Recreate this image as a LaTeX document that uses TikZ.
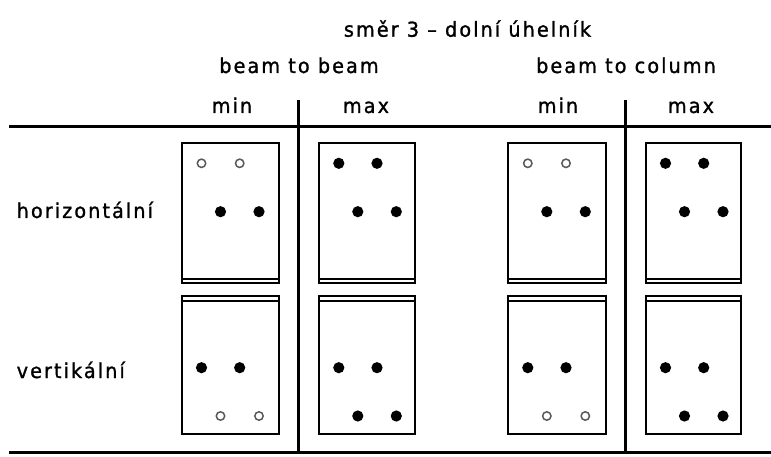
\documentclass[tikz,border=0pt]{standalone}
\usepackage{fontspec}
\setmainfont[LetterSpace=10,FakeStretch=0.94,FakeBold=1.2]{DejaVu Sans}
\begin{document}
\begin{tikzpicture}[x=1pt,y=-1pt,
  rule/.style={line width=2.2pt},
  plate/.style={line width=2.1pt},
  flange/.style={line width=1.6pt},
  bolt/.style={fill=black},
  hole/.style={draw=black!65,line width=1.5pt,fill=white},
  lbl/.style={font=\fontsize{20.5}{24}\selectfont, inner sep=0pt}]
\useasboundingbox (0,0) rectangle (771,457);
% texts
\node[lbl,anchor=base] (title) at (467.5,36.7) {směr 3 – dolní úhelník};
\node[lbl,anchor=base] (bb) at (299,73) {beam to beam};
\node[lbl,anchor=base] (bc) at (626,73) {beam to column};
\node[lbl,anchor=base] (min1) at (232,113) {min};
\node[lbl,anchor=base] (max1) at (366,113) {max};
\node[lbl,anchor=base] (min2) at (558,113) {min};
\node[lbl,anchor=base] (max2) at (691,113) {max};
\node[lbl,anchor=base west] (hor) at (16.5,218) {horizontální};
\node[lbl,anchor=base west] (ver) at (16.5,378) {vertikální};
% rules
\coordinate (tl) at (9,126.5);
\coordinate (tr) at (771,126.5);
\coordinate (bl) at (9,452.5);
\coordinate (br) at (771,452.5);
\coordinate (d1t) at (298.5,100);
\coordinate (d1b) at (298.5,452.5);
\coordinate (d2t) at (625.5,100);
\coordinate (d2b) at (625.5,452.5);
\draw[rule] (tl) -- (tr);
\draw[rule] (bl) -- (br);
\draw[rule] (d1t) -- (d1b);
\draw[rule] (d2t) -- (d2b);
% top row, min
\foreach \xl/\xr in {182/279.3,508.3/606} {
  \draw[plate] (\xl,143.3) rectangle (\xr,283.3);
  \draw[flange] (\xl,278.7) -- (\xr,278.7);
  \draw[hole] (\xl+19.5,163.3) circle (4.2pt);
  \draw[hole] (\xl+57.7,163.3) circle (4.2pt);
  \fill[bolt] (\xl+38.5,211.7) circle (5.6pt);
  \fill[bolt] (\xl+77,211.7) circle (5.6pt);
}
% top row, max
\foreach \xl/\xr in {319.3/415,646/741} {
  \draw[plate] (\xl,143.3) rectangle (\xr,283.3);
  \draw[flange] (\xl,278.7) -- (\xr,278.7);
  \fill[bolt] (\xl+19.5,163.3) circle (5.6pt);
  \fill[bolt] (\xl+57.7,163.3) circle (5.6pt);
  \fill[bolt] (\xl+38.5,211.7) circle (5.6pt);
  \fill[bolt] (\xl+77,211.7) circle (5.6pt);
}
% bottom row, min
\foreach \xl/\xr in {182/279.3,508.3/606} {
  \draw[plate] (\xl,295.7) rectangle (\xr,434.3);
  \draw[flange] (\xl,300.7) -- (\xr,300.7);
  \fill[bolt] (\xl+19.5,367.7) circle (5.6pt);
  \fill[bolt] (\xl+57.7,367.7) circle (5.6pt);
  \draw[hole] (\xl+38.5,416) circle (4.2pt);
  \draw[hole] (\xl+77,416) circle (4.2pt);
}
% bottom row, max
\foreach \xl/\xr in {319.3/415,646/741} {
  \draw[plate] (\xl,295.7) rectangle (\xr,434.3);
  \draw[flange] (\xl,300.7) -- (\xr,300.7);
  \fill[bolt] (\xl+19.5,367.7) circle (5.6pt);
  \fill[bolt] (\xl+57.7,367.7) circle (5.6pt);
  \fill[bolt] (\xl+38.5,416) circle (5.6pt);
  \fill[bolt] (\xl+77,416) circle (5.6pt);
}
\end{tikzpicture}
\end{document}
